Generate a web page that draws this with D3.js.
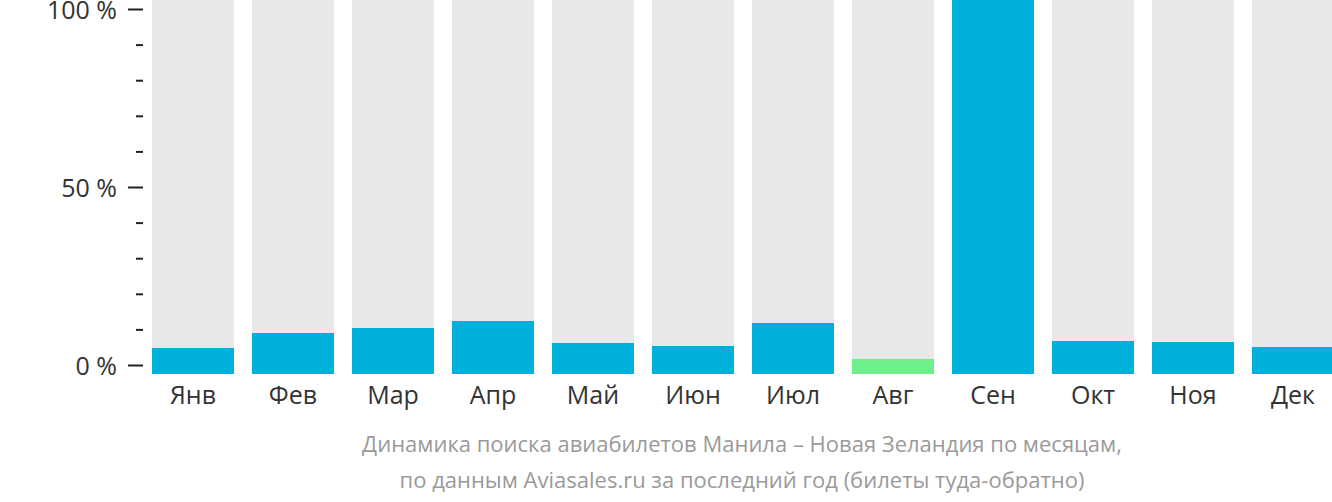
<!DOCTYPE html>
<html><head><meta charset="utf-8">
<script src="https://cdn.jsdelivr.net/npm/d3@7"></script>
<style>
html,body{margin:0;padding:0;background:#fff;}
svg{display:block;font-family:"Open Sans",sans-serif;}
</style></head>
<body>
<svg id="chart" width="1332" height="502"></svg>
<script>
const months = ["Янв","Фев","Мар","Апр","Май","Июн","Июл","Авг","Сен","Окт","Ноя","Дек"];
const values = [6.95, 10.96, 12.3, 14.17, 8.29, 7.49, 13.64, 4.01, 100, 8.82, 8.56, 7.22];
const highlight = ["Авг"];
const majorTicks = [0, 50, 100];
const minorTicks = [10, 20, 30, 40, 60, 70, 80, 90];
const tickLabel = d => d + " %";
const caption = ["Динамика поиска авиабилетов Манила – Новая Зеландия по месяцам,",
                 "по данным Aviasales.ru за последний год (билеты туда-обратно)"];

const svg = d3.select("#chart");
const x = d3.scaleBand().domain(months).range([143, 1343]).paddingInner(0.18).paddingOuter(0.09);
const yBar = d3.scaleLinear().domain([0, 100]).range([374, 0]);
const yAxis = d3.scaleLinear().domain([0, 100]).range([365, 9]);

// background bars
svg.append("g").selectAll("rect").data(months).join("rect")
  .attr("x", d => x(d)).attr("width", x.bandwidth())
  .attr("y", yBar(100)).attr("height", yBar(0) - yBar(100))
  .attr("fill", "#e8e8e8");

// value bars
svg.append("g").selectAll("rect").data(months).join("rect")
  .attr("x", d => x(d)).attr("width", x.bandwidth())
  .attr("y", (d,i) => yBar(values[i])).attr("height", (d,i) => yBar(0) - yBar(values[i]))
  .attr("fill", d => highlight.includes(d) ? "#6df08c" : "#00b0dc");

// y axis major
const gMaj = svg.append("g").attr("transform", "translate(143,0)")
  .call(d3.axisLeft(yAxis).tickValues(majorTicks).tickSize(15).tickPadding(11).tickFormat(tickLabel));
gMaj.select(".domain").remove();
gMaj.selectAll("line").attr("stroke", "#222").attr("stroke-width", 2);
gMaj.selectAll("text").attr("fill", "#333").attr("dy", "0.36em").style("font-size", "25px").style("font-family", "'Open Sans',sans-serif");

// y axis minor
const gMin = svg.append("g").attr("transform", "translate(143,0)")
  .call(d3.axisLeft(yAxis).tickValues(minorTicks).tickSize(7).tickFormat(""));
gMin.select(".domain").remove();
gMin.selectAll("line").attr("stroke", "#222").attr("stroke-width", 2);

// x axis labels
const gx = svg.append("g").attr("transform", "translate(0,374)")
  .call(d3.axisBottom(x).tickSize(0).tickPadding(0));
gx.select(".domain").remove();
gx.selectAll("text").attr("fill", "#333").attr("dy", null).attr("y", 30)
  .style("font-size", "25px").style("font-family", "'Open Sans',sans-serif");

// caption
svg.append("g").selectAll("text").data(caption).join("text")
  .attr("x", 742).attr("y", (d,i) => 452 + i*36)
  .attr("text-anchor", "middle").attr("fill", "#9a9a9a")
  .style("font-size", "22px").text(d => d);
</script>
</body></html>
